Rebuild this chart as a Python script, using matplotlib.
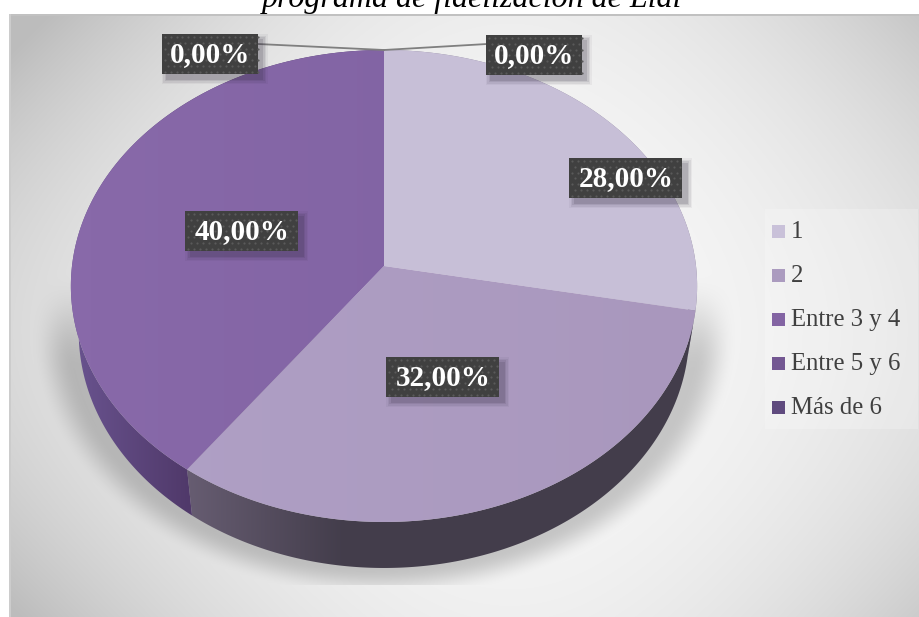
import numpy as np
from matplotlib import pyplot as plt
from matplotlib.patches import Polygon, Rectangle

categories = ['1', '2', 'Entre 3 y 4', 'Entre 5 y 6', 'Más de 6']
shares = [28.0, 32.0, 40.0, 0.0, 0.0]
legend_colors = ['#c9c1d9', '#ab9bbf', '#8364a3', '#735792', '#5f4a7e']

# face colours per slice, left and right end of a horizontal gradient
face_colors = [('#c9c1d9', '#c7bfd7'), ('#b0a1c6', '#a997bd'), ('#8869a9', '#7d60a0'),
               ('#735792', '#735792'), ('#5f4a7e', '#5f4a7e')]
rim_colors = [('#8a8298', '#8a8298'), ('#675d72', '#433d4b'), ('#6a5490', '#50396a'),
              ('#50396a', '#50396a'), ('#50396a', '#50396a')]
rim_ranges = [(400, 700), (186, 345), (70, 190), (70, 190), (70, 190)]

# label box centres in canvas pixels
label_centers = [(626, 178), (443, 377), (242, 231), (534, 55), (210, 54)]
leader_ends = [None, None, None, (487, 44), (258, 44)]

W, H = 920, 617
CX, CY = 384, 266
RX, RY, PERSP = 312, 234.3, 0.0847
DEPTH = 46

plt.rcParams['font.family'] = ['Liberation Serif', 'DejaVu Serif']
fig = plt.figure(figsize=(W / 100, H / 100), dpi=100)
ax = fig.add_axes([0, 0, 1, 1])
ax.set_xlim(0, W)
ax.set_ylim(H, 0)
ax.axis('off')
ax.set_autoscale_on(False)


def project(theta):
    '''disc point at clockwise angle theta (from 12 o'clock) seen in perspective'''
    u, v = np.sin(theta), -np.cos(theta)
    w = 1 - PERSP * v
    return CX + RX * u / w, CY + RY * v / w


def hex_rgb(c):
    return np.array([int(c[i:i + 2], 16) / 255 for i in (1, 3, 5)])


def gradient_poly(xs, ys, c0, c1, x0, x1, zorder):
    '''fill a polygon with a horizontal gradient between x0 and x1'''
    t = np.linspace(0, 1, 256)[None, :, None]
    img = hex_rgb(c0) * (1 - t) + hex_rgb(c1) * t
    im = ax.imshow(img, extent=(x0, x1, H, 0), aspect='auto', zorder=zorder, interpolation='bilinear')
    # pad out beyond the gradient range so the end colours carry on
    left = ax.imshow(hex_rgb(c0)[None, None, :], extent=(0, x0, H, 0), aspect='auto', zorder=zorder)
    right = ax.imshow(hex_rgb(c1)[None, None, :], extent=(x1, W, H, 0), aspect='auto', zorder=zorder)
    patch = Polygon(np.column_stack([xs, ys]), closed=True, transform=ax.transData, fill=False, lw=0)
    ax.add_patch(patch)
    for i in (im, left, right):
        i.set_clip_path(patch)


def smooth(a, b, x):
    t = np.clip((x - a) / (b - a), 0, 1)
    return t * t * (3 - 2 * t)


# backdrop: soft vignette plus the pie's ground shadow
yy, xx = np.mgrid[0:H, 0:W] + 0.5
rx2 = ((xx - 510) / 430) ** 2
ry2 = ((yy - 330) / 300) ** 2
bg = 0.975 - 0.09 * rx2 - 0.04 * ry2 - 0.07 * rx2 * ry2
bg = np.maximum(bg, 0.74)
d = np.sqrt(((xx - CX) / 313) ** 2 + ((yy - 332) / 236) ** 2)
shadow = (1 - smooth(1.0, 1.13, d)) * smooth(270, 370, yy) * (yy < 585)
bg = bg * (1 - 0.19 * shadow)
bg[:14, :] = 1
bg[:, :9] = 1
bg[14:16, 9:] = 0.76
bg[14:, 9:11] = 0.80
ax.imshow(np.dstack([bg] * 3), extent=(0, W, H, 0), aspect='auto', zorder=0, interpolation='bilinear')

# slices
edges = np.cumsum([0.0] + shares) / sum(shares) * 2 * np.pi
for i in range(len(shares)):
    if shares[i] == 0:
        continue
    th = np.linspace(edges[i], edges[i + 1], 200)
    x, y = project(th)
    bx = CX + (x - CX) * 0.975
    by = y + DEPTH
    gradient_poly(np.r_[x, bx[::-1]], np.r_[y, by[::-1]], rim_colors[i][0], rim_colors[i][1],
                  rim_ranges[i][0], rim_ranges[i][1], 2)
for i in range(len(shares)):
    if shares[i] == 0:
        continue
    th = np.linspace(edges[i], edges[i + 1], 200)
    x, y = project(th)
    gradient_poly(np.r_[CX, x], np.r_[CY, y], face_colors[i][0], face_colors[i][1], 90, 690, 3)

# legend
ax.add_patch(Rectangle((765, 209), 153, 220, fc='white', ec='none', alpha=0.22, zorder=1))
for i, name in enumerate(categories):
    yc = 231 + i * 44
    ax.add_patch(Rectangle((772, yc - 6.5), 13, 13, fc=legend_colors[i], ec='none', zorder=4))
    ax.text(791, yc + 7, name, fontsize=17.8, color='#404040', va='baseline', ha='left', zorder=4)

# data labels
for i, share in enumerate(shares):
    cx, cy = label_centers[i]
    txt = f'{share:.2f}'.replace('.', ',') + '%'
    bw = 113 if share >= 10 else 96
    bh = 40
    if leader_ends[i] is not None:
        ang = edges[i]
        px, py = project(np.array(ang if ang < 2 * np.pi else 0.0))
        ax.plot([px, leader_ends[i][0]], [py, leader_ends[i][1]], color='#7f7f7f', lw=1.3, zorder=5)
    for grow, alpha in ((5, 0.05), (3.5, 0.08), (2, 0.10), (0.5, 0.14)):
        ax.add_patch(Rectangle((cx - bw / 2 + 5 - grow, cy - bh / 2 + 5 - grow), bw + 2 * grow, bh + 2 * grow,
                               fc='#30283c', ec='none', alpha=alpha, zorder=6))
    ax.add_patch(Rectangle((cx - bw / 2, cy - bh / 2), bw, bh, fc='#404040', ec='none', zorder=7))
    gx, gy = [], []
    for r, py in enumerate(np.arange(cy - bh / 2 + 3, cy + bh / 2, 5.8)):
        for px in np.arange(cx - bw / 2 + 3 + (r % 2) * 2.9, cx + bw / 2, 5.8):
            gx.append(px)
            gy.append(py)
    ax.scatter(gx, gy, s=2.5, color='#5a5a5a', linewidths=0, zorder=8)
    ax.text(cx, cy + 1, txt, fontsize=21, fontweight='bold', color='white', ha='center', va='center', zorder=9)

ax.text(472, 7, 'programa de fidelización de Lidl', fontsize=23, fontstyle='italic', color='black',
        ha='center', va='baseline', zorder=10)

fig.savefig('out.png', dpi=100)
